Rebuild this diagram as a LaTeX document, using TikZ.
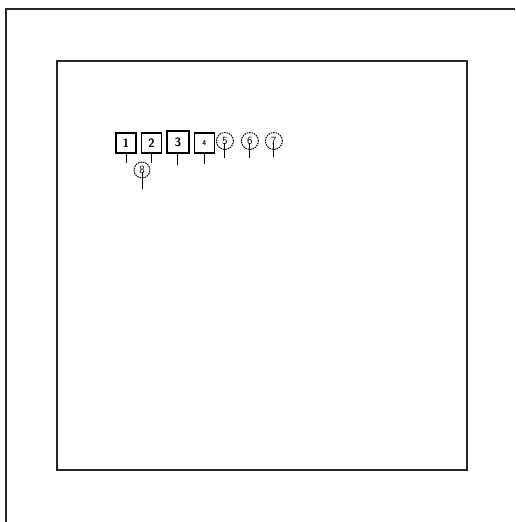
\documentclass[tikz,border=0pt]{standalone}
\usetikzlibrary{positioning}

\begin{document}
\begin{tikzpicture}[
    x=1pt, y=-1pt,
    node distance=4pt,
    sqbox/.style={rectangle, minimum size=20pt, inner sep=0pt, draw=black, line width=1.4pt, fill=white, font=\sffamily\bfseries\fontsize{12}{12}\selectfont},
    pinball/.style={circle, minimum size=17pt, inner sep=0pt, draw=black, line width=1pt, dash pattern=on 1.6pt off 0.9pt, fill=white, font=\sffamily\fontsize{11}{11}\selectfont},
    stem/.style={draw=black, line width=1pt},
    frame/.style={draw=black!85, line width=1.6pt}
]
\useasboundingbox (0,0) rectangle (515,522);

% Frames
\draw [frame] (6,522) -- (6,9) -- (515,9);
\draw [frame] (57,61) rectangle (467,470);

% Nodes
\node (n1) [sqbox] at (126,143) {1};
\node (n2) [sqbox, right=of n1] {2};
\node (n3) [sqbox, minimum size=22pt, right=of n2, yshift=1pt] {3};
\node (n4) [sqbox, right=of n3, yshift=-1pt, font=\sffamily\bfseries\fontsize{7}{7}\selectfont] {4};
\node (n5) [pinball, right=1pt of n4, yshift=2pt] {5};
\node (n6) [pinball, right=7pt of n5] {6};
\node (n7) [pinball, right=6pt of n6] {7};
\node (n8) [pinball, minimum size=16pt] at (142,170) {8};

% Stems
\foreach \n/\len in {1/9, 2/9, 3/11, 4/10} {
    \coordinate (t\n) at ([yshift=-\len pt]n\n.south);
    \draw [stem] (n\n.south) -- (t\n);
}
\foreach \n/\len in {5/8, 6/8, 7/7, 8/10} {
    \coordinate (t\n) at ([yshift=-\len pt]n\n.south);
    \draw [stem] ([yshift=-2pt]n\n.center) -- (t\n);
}

\end{tikzpicture}
\end{document}
